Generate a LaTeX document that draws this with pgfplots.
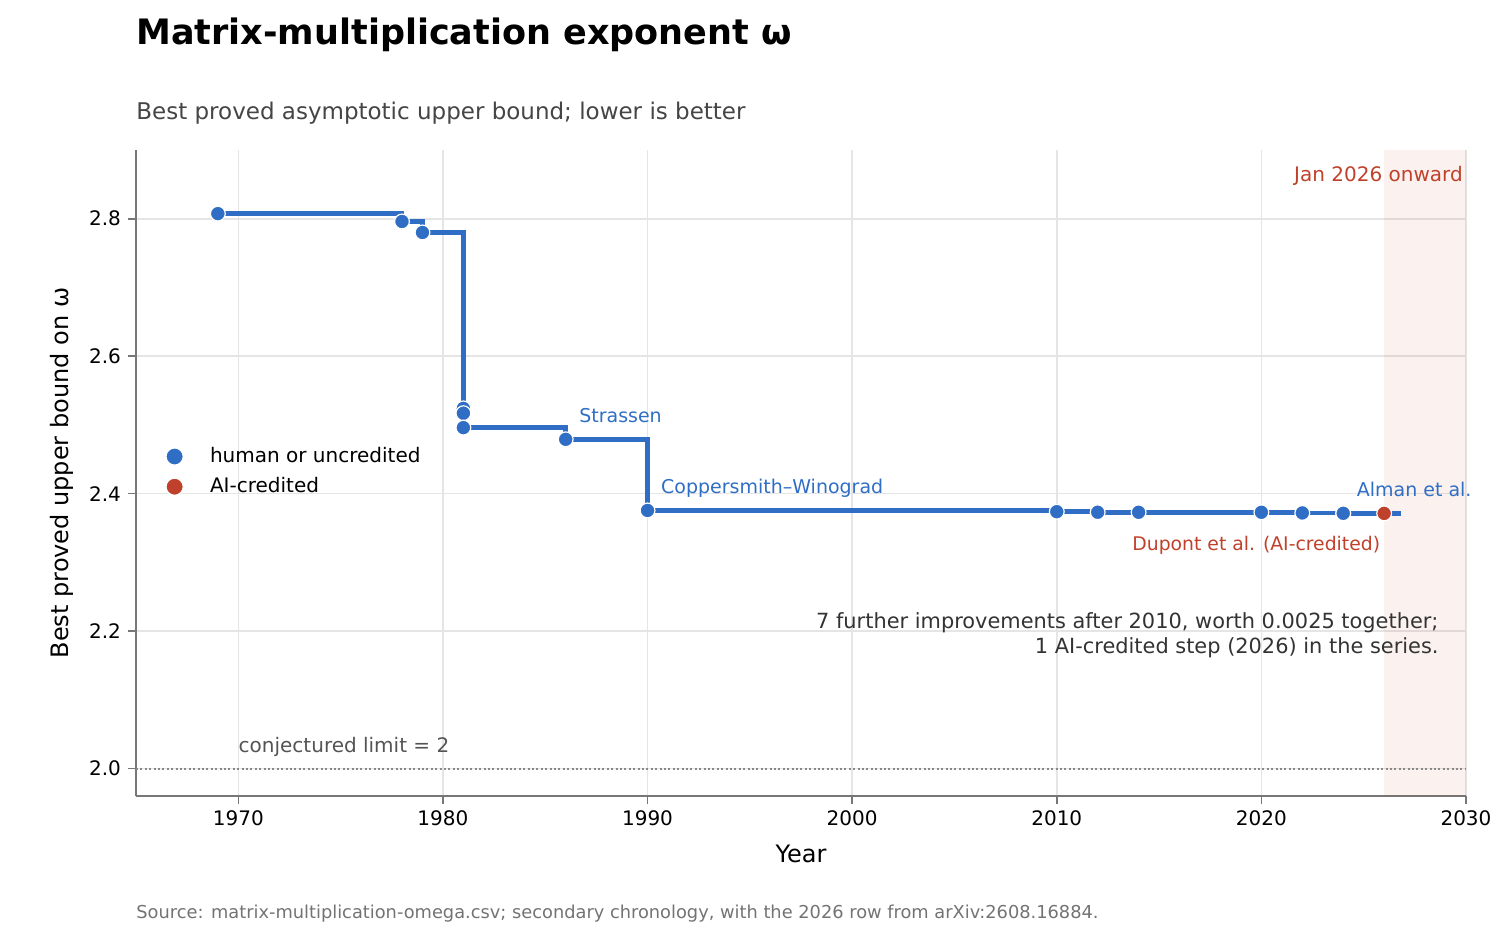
\documentclass[border=0pt]{standalone}
\usepackage{fontspec}
\setmainfont{DejaVu Sans}
\usepackage{pgfplots}
\pgfplotsset{compat=1.18}
\definecolor{cblue}{HTML}{2F6EC4}
\definecolor{cred}{HTML}{C0412B}
\definecolor{spine}{HTML}{777777}
\definecolor{gridc}{HTML}{E5E5E5}
\definecolor{limc}{HTML}{888888}

\pgfplotstableread{
x y
1969 2.8074
1978 2.796
1979 2.780
1981 2.524
1981 2.517
1981 2.496
1986 2.479
1990 2.3755
2010 2.3737
2012 2.3729
2014 2.37286
2020 2.37286
2022 2.37187
2024 2.37155
2024 2.37134
}\human

\pgfplotstableread{
x y
1969 2.8074
1978 2.796
1979 2.780
1981 2.524
1981 2.517
1981 2.496
1986 2.479
1990 2.3755
2010 2.3737
2012 2.3729
2014 2.37286
2020 2.37286
2022 2.37187
2024 2.37155
2024 2.37134
2026 2.3712
2026.8 2.3712
}\steps

\begin{document}
\begin{tikzpicture}
\path[use as bounding box] (0,0) rectangle (756pt,468pt);
\node[anchor=base west, inner sep=0, font=\fontsize{17.5}{21}\selectfont\bfseries] at (68pt,445.5pt) {Matrix-multiplication exponent ω};
\node[anchor=base west, inner sep=0, font=\fontsize{11.5}{14}\selectfont, text=black!73] at (68pt,408pt) {Best proved asymptotic upper bound; lower is better};
\node[anchor=base west, inner sep=0, font=\fontsize{8.9}{10}\selectfont, text=black!55] at (68pt,8.5pt) {Source: matrix-multiplication-omega.csv; secondary chronology, with the 2026 row from arXiv:2608.16884.};
\begin{axis}[
  at={(68pt,70pt)}, anchor=south west,
  width=665pt, height=323pt, scale only axis,
  xmin=1965, xmax=2030, ymin=1.96, ymax=2.9,
  clip=false,
  axis x line*=bottom, axis y line*=left,
  axis line style={spine, line width=0.8pt, -},
  tick style={spine, line width=0.8pt},
  tick align=outside, major tick length=4pt,
  xtick={1970,1980,...,2030},
  ytick={2.0,2.2,2.4,2.6,2.8},
  grid=major,
  major grid style={gridc, line width=0.8pt},
  /pgf/number format/assume math mode=true,
  x tick label style={/pgf/number format/1000 sep={}, font=\fontsize{10}{12}\selectfont},
  y tick label style={/pgf/number format/.cd, fixed, fixed zerofill, precision=1, /tikz/.cd, font=\fontsize{10}{12}\selectfont},
  xlabel={Year},
  ylabel={Best proved upper bound on ω},
  label style={font=\fontsize{12}{14}\selectfont},
  xlabel style={at={(axis description cs:0.5,-0.0898)}, anchor=center},
  ylabel style={at={(axis description cs:-0.0556,0.5)}, anchor=center},
  legend style={at={(axis cs:1966.36,2.432)}, anchor=west, draw=none, fill=none,
     font=\fontsize{10}{12}\selectfont, row sep=2pt, inner sep=0pt},
  legend cell align=left,
  legend image code/.code={\draw[#1, mark size=4.3pt] plot coordinates {(0pt,0pt)}; \path (-5pt,0pt) (15.5pt,0pt);},
]
\addplot[draw=none, fill=cred, fill opacity=0.07, forget plot] coordinates {(2026,1.96) (2030,1.96) (2030,2.9) (2026,2.9) (2026,1.96)};
\addplot[limc, line width=1pt, dash pattern=on 1pt off 1.2pt, forget plot] coordinates {(1965,2) (2030,2)};
\addplot[const plot, cblue, line width=2.3pt, forget plot] table[x=x,y=y] {\steps};
\addplot[only marks, mark=*, mark size=3.7pt, mark options={fill=cblue, draw=white, line width=0.6pt}] table[x=x,y=y] {\human};
\addlegendentry{human or uncredited}
\addplot[only marks, mark=*, mark size=3.7pt, mark options={fill=cred, draw=white, line width=0.6pt}] coordinates {(2026,2.3712)};
\addlegendentry{AI-credited}

\node[anchor=base west, inner sep=0, text=cblue, font=\fontsize{9.5}{11}\selectfont, xshift=6.6pt, yshift=8.3pt] at (axis cs:1986,2.479) {Strassen};
\node[anchor=base west, inner sep=0, text=cblue, font=\fontsize{9.5}{11}\selectfont, xshift=6.6pt, yshift=8.3pt] at (axis cs:1990,2.3755) {Coppersmith–Winograd};
\node[anchor=base west, inner sep=0, text=cblue, font=\fontsize{9.5}{11}\selectfont, xshift=6.6pt, yshift=8.3pt] at (axis cs:2024,2.37134) {Alman et al.};
\node[anchor=base east, inner sep=0, text=cred, font=\fontsize{9.4}{11}\selectfont, xshift=-1.8pt, yshift=-18.5pt] at (axis cs:2026,2.3712) {Dupont et al. (AI-credited)};
\node[anchor=base east, inner sep=0, text=cred, font=\fontsize{10}{12}\selectfont] at (axis cs:2029.86,2.8538) {Jan 2026 onward};
\node[anchor=base east, inner sep=0, text=black!80, font=\fontsize{10.45}{12}\selectfont] at (axis cs:2028.68,2.2032) {7 further improvements after 2010, worth 0.0025 together;};
\node[anchor=base east, inner sep=0, text=black!80, font=\fontsize{10.45}{12}\selectfont] at (axis cs:2028.68,2.1668) {1 AI-credited step (2026) in the series.};
\node[anchor=base west, inner sep=0, text=black!67, font=\fontsize{10}{12}\selectfont] at (axis cs:1970,2.0233) {conjectured limit = 2};
\end{axis}
\end{tikzpicture}
\end{document}
